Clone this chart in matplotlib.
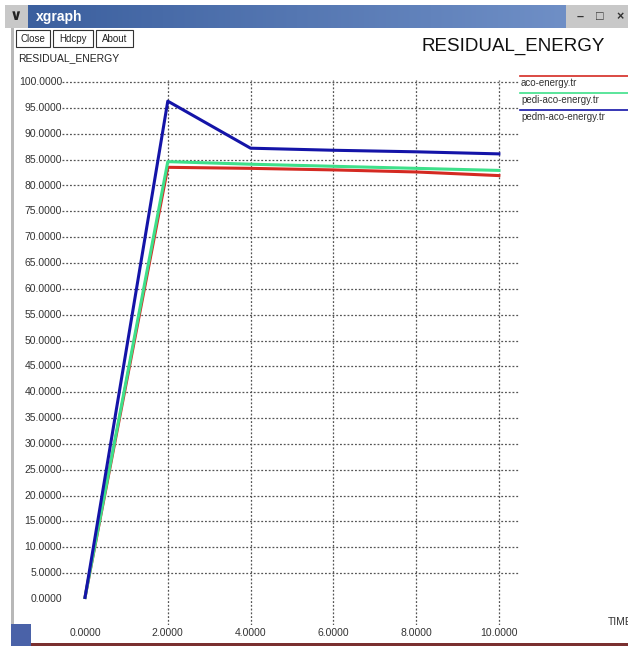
import numpy as np
import matplotlib
matplotlib.use("Agg")
import matplotlib.pyplot as plt
from matplotlib.patches import Rectangle

# ---- data ----
time = [0, 2, 4, 6, 8, 10]
aco = [0.3, 83.5, 83.3, 83.0, 82.6, 81.9]
pedi_aco = [0.3, 84.6, 84.1, 83.7, 83.3, 82.9]
pedm_aco = [0.3, 96.3, 87.2, 86.8, 86.5, 86.1]
series_names = ["aco-energy.tr", "pedi-aco-energy.tr", "pedm-aco-energy.tr"]
series_colors = ["#d42a22", "#3ee08a", "#1414a8"]
xticks = [0, 2, 4, 6, 8, 10]
yticks = list(range(0, 101, 5))

W, H = 628, 647
plt.rcParams["font.family"] = ["Liberation Sans", "DejaVu Sans"]
fig = plt.figure(figsize=(W / 100, H / 100), dpi=100)


def fx(px):
    return px / W


def fy(py):
    return 1 - py / H


# window chrome: title bar
bar = fig.add_axes([fx(28), fy(28), fx(566 - 28), (28 - 5) / H])
grad = np.linspace(0, 1, 256).reshape(1, -1)
bar.imshow(grad, aspect="auto", cmap=matplotlib.colors.LinearSegmentedColormap.from_list(
    "tb", ["#3b5f9e", "#6f8fc6"]), extent=[0, 1, 0, 1])
bar.axis("off")
fig.text(fx(36), fy(17), "xgraph", color="white", fontsize=10, fontweight="bold", va="center")
fig.patches.append(Rectangle((fx(5), fy(28)), fx(23), 23 / H, transform=fig.transFigure,
                             facecolor="#c8c8c8", edgecolor="none"))
fig.text(fx(16), fy(16), "\u2228", fontsize=11, fontweight="bold", ha="center", va="center", color="#222222")
fig.patches.append(Rectangle((fx(566), fy(28)), fx(62), 23 / H, transform=fig.transFigure,
                             facecolor="#c8c8c8", edgecolor="none"))
for px, s in [(580, "\u2013"), (600, "\u25a1"), (620, "\u00d7")]:
    fig.text(fx(px), fy(17), s, fontsize=9, fontweight="bold", ha="center", va="center", color="#333333")

# window borders
fig.patches.append(Rectangle((fx(11), fy(645)), fx(3), (645 - 28) / H, transform=fig.transFigure,
                             facecolor="#b8b8b8", edgecolor="none"))
fig.patches.append(Rectangle((fx(11), fy(646)), fx(618), 3 / H, transform=fig.transFigure,
                             facecolor="#7a3030", edgecolor="none"))
fig.patches.append(Rectangle((fx(11), fy(646)), fx(20), 22 / H, transform=fig.transFigure,
                             facecolor="#4a62a8", edgecolor="none"))

# buttons
for x0, x1, lab in [(16, 50, "Close"), (53, 93, "Hdcpy"), (96, 133, "About")]:
    fig.patches.append(Rectangle((fx(x0), fy(47)), fx(x1 - x0), 17 / H, transform=fig.transFigure,
                                 facecolor="white", edgecolor="#333333", linewidth=0.8))
    fig.text(fx((x0 + x1) / 2), fy(38.5), lab, fontsize=7, ha="center", va="center", color="#222222")

fig.text(fx(18), fy(58), "RESIDUAL_ENERGY", fontsize=7.5, va="center", color="#222222")
fig.text(fx(605), fy(46), "RESIDUAL_ENERGY", fontsize=13.5, ha="right", va="center", color="#111111")

# plot area
ax = fig.add_axes([fx(62), fy(625), fx(520 - 62), (625 - 80) / H])
ax.set_xlim(-0.556, 10.51)
ax.set_ylim(-5.03, 100.39)
for s in ax.spines.values():
    s.set_visible(False)
ax.set_xticks([])
ax.set_yticks([])

grid_kw = dict(color="#555555", linestyle=(0, (1.5, 1.5)), linewidth=0.9, zorder=1)
for y in yticks[1:]:
    ax.axhline(y, **grid_kw)
for x in xticks[1:]:
    ax.axvline(x, **grid_kw)

for vals, c in zip([aco, pedi_aco, pedm_aco], series_colors):
    ax.plot(time, vals, color=c, linewidth=2.2, zorder=3)

for y in yticks:
    fig.text(fx(62), fy(599 - y * 5.168), f"{y:.4f}", fontsize=7.5, ha="right", va="center", color="#333333")
for x in xticks:
    fig.text(fx(85 + x * 41.4), fy(633), f"{x:.4f}", fontsize=7.5, ha="center", va="center", color="#333333")
fig.text(fx(608), fy(622), "TIME", fontsize=7.5, va="center", color="#333333")

# legend
for i, (name, c) in enumerate(zip(series_names, series_colors)):
    ly = 76 + i * 17
    fig.add_artist(plt.Line2D([fx(520), fx(628)], [fy(ly), fy(ly)], color=c, linewidth=1.2))
    fig.text(fx(521), fy(ly + 7), name, fontsize=7, va="center", color="#333333")

fig.savefig("out.png", dpi=100)
